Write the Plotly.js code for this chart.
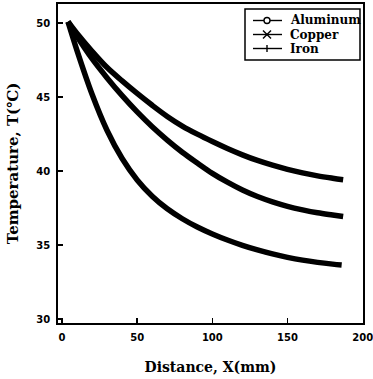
<!DOCTYPE html>
<html>
<head>
<meta charset="utf-8">
<script src="https://cdn.plot.ly/plotly-3.0.1.min.js"></script>
<style>html,body{margin:0;padding:0;background:#fff;}#chart{width:373px;height:379px;}</style>
</head>
<body>
<div id="chart"></div>
<script>
// Distance X (mm) and temperature T (°C)
const seriesNames = ["Aluminum", "Copper", "Iron"];
const xCopper = [4, 10, 20, 30, 40, 50, 60, 70, 80, 90, 100, 110, 120, 130, 140, 150, 160, 170, 180, 187];
const tCopper = [50.1, 49.3, 48.1, 47.0, 46.1, 45.25, 44.45, 43.7, 43.05, 42.5, 42.0, 41.53, 41.1, 40.72, 40.4, 40.12, 39.88, 39.68, 39.52, 39.42];
const xAluminum = [4, 10, 20, 30, 40, 50, 60, 70, 80, 90, 100, 110, 120, 130, 140, 150, 160, 170, 180, 187];
const tAluminum = [50.1, 49.1, 47.6, 46.3, 45.1, 44.0, 43.0, 42.1, 41.28, 40.55, 39.85, 39.25, 38.72, 38.28, 37.92, 37.62, 37.38, 37.18, 37.03, 36.93];
const xIron = [4, 10, 20, 30, 40, 50, 60, 70, 80, 90, 100, 110, 120, 130, 140, 150, 160, 170, 180, 186];
const tIron = [50.1, 48.15, 45.2, 42.75, 40.85, 39.4, 38.3, 37.45, 36.78, 36.22, 35.75, 35.34, 34.98, 34.67, 34.4, 34.17, 33.98, 33.83, 33.71, 33.65];
const xTicks = [0, 50, 100, 150, 200];
const yTicks = [30, 35, 40, 45, 50];

const band = {color: "#000", width: 5.5, shape: "spline", smoothing: 1};
const traces = [
  {x: xAluminum, y: tAluminum, name: seriesNames[0], mode: "lines", line: band, hoverinfo: "skip"},
  {x: xCopper, y: tCopper, name: seriesNames[1], mode: "lines", line: band, hoverinfo: "skip"},
  {x: xIron, y: tIron, name: seriesNames[2], mode: "lines", line: band, hoverinfo: "skip"}
];

// plot-area pixel frame (for the hand-made legend box)
const L = 58, R = 363, T = 4, B = 323;
const px = v => (v - L) / (R - L);
const py = v => (B - v) / (B - T);

const shapes = [];
const annotations = [];
const k = {color: "#000", width: 1.4};
shapes.push({type: "rect", xref: "paper", yref: "paper", x0: px(245), x1: px(360), y0: py(60), y1: py(9),
  line: {color: "#000", width: 1.5}, fillcolor: "#fff", layer: "above"});
const rowY = [20.5, 34.5, 48.5];
seriesNames.forEach((n, i) => {
  const ry = rowY[i];
  shapes.push({type: "line", xref: "paper", yref: "paper", x0: px(253), x1: px(282), y0: py(ry), y1: py(ry), line: k, layer: "above"});
  if (i === 0) {
    shapes.push({type: "circle", xref: "paper", yref: "paper", x0: px(264), x1: px(270), y0: py(ry + 3), y1: py(ry - 3),
      line: k, fillcolor: "#fff", layer: "above"});
  } else if (i === 1) {
    shapes.push({type: "line", xref: "paper", yref: "paper", x0: px(263), x1: px(271), y0: py(ry - 4), y1: py(ry + 4), line: k, layer: "above"});
    shapes.push({type: "line", xref: "paper", yref: "paper", x0: px(263), x1: px(271), y0: py(ry + 4), y1: py(ry - 4), line: k, layer: "above"});
  } else {
    shapes.push({type: "line", xref: "paper", yref: "paper", x0: px(267), x1: px(267), y0: py(ry - 3.5), y1: py(ry + 3.5), line: k, layer: "above"});
  }
  annotations.push({text: n, xref: "paper", yref: "paper", x: px(288), y: py(ry), xanchor: "left", yanchor: "middle",
    showarrow: false, font: {family: "DejaVu Serif, serif", size: 12, color: "#000", weight: "bold"}});
});

const tickFont = {family: "DejaVu Sans, sans-serif", size: 10, color: "#000", weight: "bold"};

const layout = {
  width: 373, height: 379,
  margin: {l: L, r: 373 - R, t: T, b: 379 - B},
  paper_bgcolor: "#fff", plot_bgcolor: "#fff",
  showlegend: false,
  shapes: shapes, annotations: annotations,
  xaxis: {range: [-2.66, 200.2], tickvals: xTicks, ticktext: xTicks.map(String),
    ticks: "inside", ticklen: 5, tickwidth: 1.5, tickcolor: "#000", ticklabelstandoff: 4,
    ticklabeloverflow: "allow",
    showline: true, linecolor: "#000", linewidth: 1.8, mirror: true,
    showgrid: false, zeroline: false, tickfont: tickFont,
    title: {text: "Distance, X(mm)", font: {family: "DejaVu Serif, serif", size: 14, color: "#000", weight: "bold"}, standoff: 20}},
  yaxis: {range: [29.73, 51.3], tickvals: yTicks, ticktext: yTicks.map(String),
    ticks: "inside", ticklen: 5, tickwidth: 1.5, tickcolor: "#000", ticklabelstandoff: 4,
    ticklabeloverflow: "allow",
    showline: true, linecolor: "#000", linewidth: 1.8, mirror: true,
    showgrid: false, zeroline: false, tickfont: tickFont,
    title: {text: "Temperature, T(℃)", font: {family: "DejaVu Serif, serif", size: 15, color: "#000", weight: "bold"}, standoff: 14}}
};

Plotly.newPlot("chart", traces, layout, {staticPlot: true, displayModeBar: false});
</script>
</body>
</html>
